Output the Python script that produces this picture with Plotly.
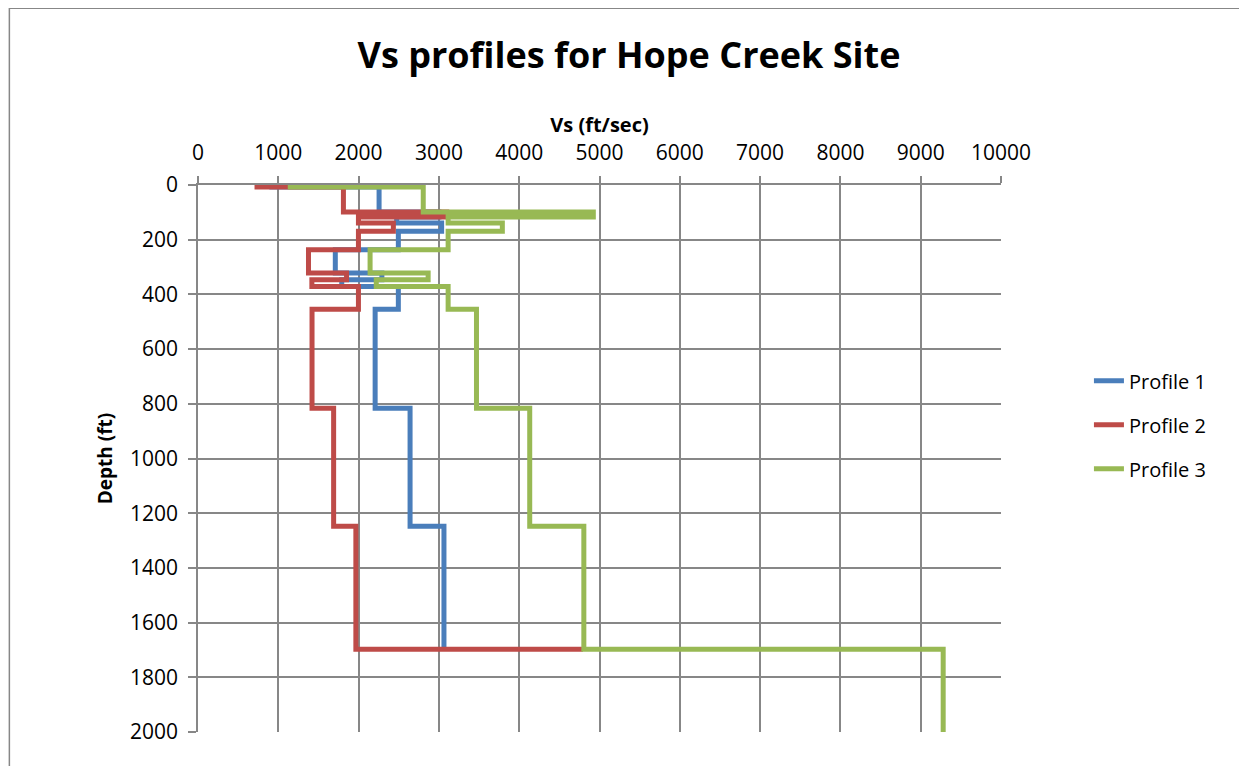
import plotly.graph_objects as go

# ---- data ----
layer_tops = [0, 7, 99, 117, 139, 169, 237, 322, 346, 371, 454, 816, 1248, 1697]

profile1_vs = [920, 2255, 3000, 2474, 3034, 2495, 1710, 2290, 1790, 2495, 2206, 2641, 3063]
profile1_end = 1697

profile2_vs = [735, 1811, 3098, 1998, 2433, 1998, 1376, 1850, 1418, 1998, 1420, 1689, 1966, 4793]
profile2_end = 1697

profile3_vs = [1149, 2805, 4923, 3115, 3790, 3115, 2143, 2866, 2220, 3115, 3468, 4131, 4805, 9280]
profile3_end = 2000

names = ["Profile 1", "Profile 2", "Profile 3"]
colors = ["#4A7EBB", "#BE4B48", "#98B954"]

x_ticks = list(range(0, 10001, 1000))
y_ticks = list(range(0, 2001, 200))


def steps(vs, end):
    xs, ys = [], []
    for i, v in enumerate(vs):
        top = layer_tops[i]
        bottom = layer_tops[i + 1] if i + 1 < len(vs) else end
        xs += [v, v]
        ys += [top, bottom]
    return xs, ys


fig = go.Figure()
for k, (vs, end) in enumerate([(profile1_vs, profile1_end),
                               (profile2_vs, profile2_end),
                               (profile3_vs, profile3_end)]):
    xs, ys = steps(vs, end)
    fig.add_trace(go.Scatter(
        x=xs, y=ys, mode="lines", name=names[k],
        line=dict(color=colors[k], width=5),
        legend="legend" if k == 0 else f"legend{k+1}",
    ))

# figure is placed 8px into the page by the body margin
OFF = 8
W, H = 1247 - OFF, 766 - OFF
L, R, T, B = 197.5 - OFF, 1001 - OFF, 185.3 - OFF, 732 - OFF
PW, PH = R - L, B - T
font_family = "'Open Sans', sans-serif"
grid = "#878787"


def px(xf):
    return (xf - OFF - L) / PW


def py(yf):
    return (B - (yf - OFF)) / PH


legend_common = dict(
    xref="paper", yref="paper", xanchor="left", yanchor="middle",
    bgcolor="rgba(0,0,0,0)", font=dict(family=font_family, size=20, color="#000"),
    itemwidth=30, borderwidth=0,
)
legend_y = [381, 425, 469]
legends = {}
for i, yy in enumerate(legend_y):
    key = "legend" if i == 0 else f"legend{i+1}"
    legends[key] = dict(legend_common, x=px(1089), y=py(yy))

fig.update_layout(
    width=W, height=H,
    margin=dict(l=L, r=W - R, t=T, b=H - B),
    paper_bgcolor="white", plot_bgcolor="white",
    font=dict(family=font_family, color="#000"),
    title=dict(text="<b>Vs profiles for Hope Creek Site</b>", x=(629 - OFF) / W, xanchor="center",
               y=1 - (55 - OFF) / H, yanchor="middle", font=dict(size=36, family=font_family)),
    showlegend=True,
    **legends,
    xaxis=dict(
        side="top", range=[0, 10000], tickvals=x_ticks, ticktext=[str(v) for v in x_ticks],
        showgrid=True, gridcolor=grid, gridwidth=1.5,
        showline=True, linecolor=grid, linewidth=1.5, mirror=False,
        ticks="outside", ticklen=7, tickcolor=grid, tickwidth=1.5,
        ticklabelstandoff=8,
        tickfont=dict(size=21, family=font_family), zeroline=False,
        title=dict(text="<b>Vs (ft/sec)</b>", font=dict(size=20, family=font_family), standoff=0),
    ),
    yaxis=dict(
        range=[2000, 0], tickvals=y_ticks, ticktext=[str(v) for v in y_ticks],
        showgrid=True, gridcolor=grid, gridwidth=1.5,
        showline=True, linecolor=grid, linewidth=1.5,
        ticks="outside", ticklen=8, tickcolor=grid, tickwidth=1.5,
        ticklabelstandoff=6,
        tickfont=dict(size=21, family=font_family), zeroline=False,
        title=dict(text="<b>Depth (ft)</b>", font=dict(size=19, family=font_family), standoff=12),
    ),
)

# outer chart border
fig.add_shape(type="rect", xref="paper", yref="paper",
              x0=(0.75 - L) / PW, x1=(W + 20 - L) / PW,
              y0=(B - H - 20) / PH, y1=(B - 0.75) / PH,
              line=dict(color=grid, width=1.5), fillcolor="rgba(0,0,0,0)", layer="below")

fig.write_html("out.html")
